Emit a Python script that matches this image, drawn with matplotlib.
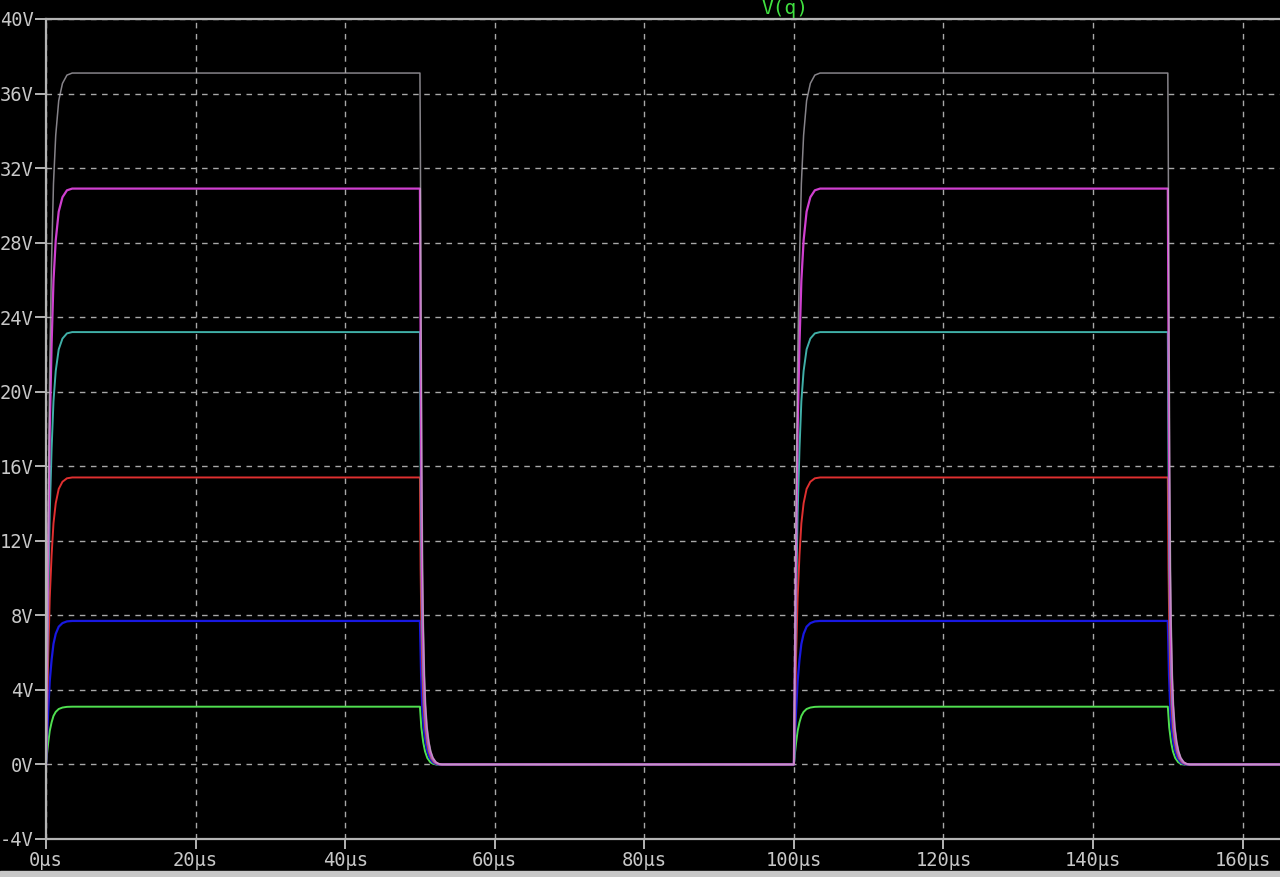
import numpy as np
import matplotlib.pyplot as plt

# plateau level of each trace (V)
levels = [3.1, 7.7, 15.4, 23.2, 30.9, 37.1]
colors = ['#50e050', '#1818e0', '#e03030', '#40b0a8', '#d040d0', '#c0bcc4']
widths = [1.4, 1.6, 1.4, 1.4, 1.6, 1.1]
alphas = [1.0, 1.0, 1.0, 1.0, 1.0, 0.7]

pulse_on = [0.0, 100.0]      # µs
pulse_off = [50.0, 150.0]    # µs
t_end = 165.0

# rise shape (offset µs, fraction of plateau)
rise_dt = [0.0, 0.15, 0.3, 0.5, 0.75, 1.0, 1.3, 1.7, 2.2, 2.8, 3.5]
rise_frac = [0.0, 0.2, 0.38, 0.58, 0.73, 0.84, 0.91, 0.96, 0.985, 0.997, 1.0]

# fall tail (offset µs, volts), shared by all traces
fall_dt = [0.0, 0.1, 0.2, 0.3, 0.4, 0.5, 0.65, 0.8, 1.0, 1.25, 1.5, 1.8, 2.2, 2.6, 3.0]
fall_v = [40, 33, 24, 16, 10.5, 7.5, 4.8, 3.2, 2.0, 1.2, 0.7, 0.35, 0.12, 0.03, 0.0]

yticks = list(range(-4, 41, 4))
xticks = list(range(0, 161, 20))

fg = '#c8c8c8'
plt.rcParams['font.family'] = ['DejaVu Sans Mono']

fig = plt.figure(figsize=(12.8, 8.77), dpi=100, facecolor='black')
ax = fig.add_axes([46 / 1280, 1 - 839 / 877, 1 - 46 / 1280, (839 - 19) / 877])
ax.set_facecolor('black')


def trace(level):
    t_cross = np.interp(level, fall_v[::-1], fall_dt[::-1])
    ts, vs = [], []
    for on, off in zip(pulse_on, pulse_off):
        ts += [on + d for d in rise_dt]
        vs += [level * f for f in rise_frac]
        ts.append(off)
        vs.append(level)
        for d, v in zip(fall_dt, fall_v):
            if v < level:
                ts.append(off + d - t_cross)
                vs.append(v)
    ts.append(t_end)
    vs.append(0.0)
    return ts, vs


for lev, c, w, a in zip(levels, colors, widths, alphas):
    ts, vs = trace(lev)
    ax.plot(ts, vs, color=c, lw=w, alpha=a, solid_joinstyle='round')

ax.set_xlim(0, t_end)
ax.set_ylim(-4, 40)
ax.set_yticks(yticks)
ax.set_yticklabels([f'{v}V' for v in yticks])
ax.set_xticks(xticks)
ax.set_xticklabels([f'{v}µs' for v in xticks])

ax.grid(True, color='#a8a8a8', ls=(0, (4, 4)), lw=1.0)
ax.set_axisbelow(True)

for side in ['left', 'top', 'bottom']:
    ax.spines[side].set_color('#b4b4b4')
    ax.spines[side].set_linewidth(1.6)
ax.spines['right'].set_visible(False)

ax.tick_params(axis='y', colors='#b4b4b4', labelcolor=fg, labelsize=13.5,
               length=8, width=1.4, direction='out', pad=1)
ax.tick_params(axis='x', colors='#b4b4b4', labelcolor=fg, labelsize=13.5,
               length=7, width=1.4, direction='out', pad=2)

fig.text(785 / 1280, 1 - 9 / 877, 'V(q)', color='#40e040', fontsize=14,
         ha='center', va='center')

# light strip at the window's bottom edge
fig.patches.append(plt.Rectangle((0, 0), 1, 6 / 877, transform=fig.transFigure,
                                 color='#c8c8c8', zorder=0))

fig.savefig('out.png', dpi=100, facecolor='black')
